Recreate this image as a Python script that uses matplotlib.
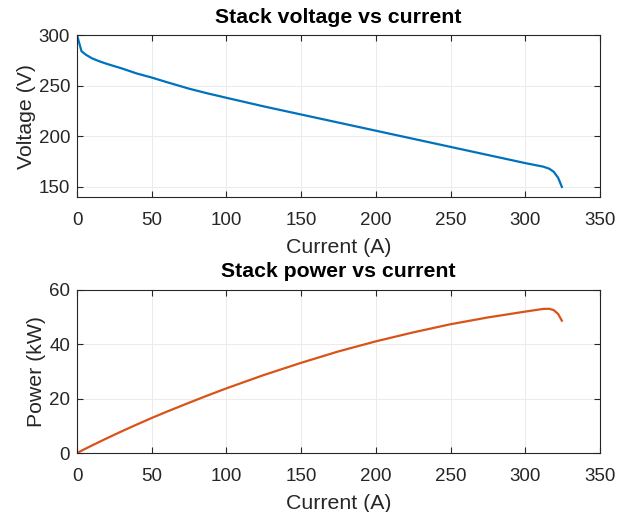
import matplotlib
matplotlib.use("Agg")
import matplotlib.pyplot as plt

# values
current = [0, 3, 6, 10, 15, 20, 30, 40, 50, 60, 75, 87, 100, 125, 150, 175,
           200, 225, 250, 275, 300, 312, 316, 319, 322, 324.5]
voltage = [300, 284, 280.5, 277, 274, 271.5, 267, 262, 258, 253.5, 247, 242.5,
           238, 229.5, 221.5, 213.5, 205.5, 197.5, 189.5, 181.5, 173.5, 170,
           168, 165, 159, 150]
power_kw = [0, 0.85, 1.68, 2.77, 4.11, 5.43, 8.01, 10.48, 12.9, 15.2, 18.5,
            21.1, 23.8, 28.7, 33.2, 37.4, 41.1, 44.4, 47.4, 49.9, 52.05, 53.04,
            53.09, 52.6, 51.2, 48.7]

plt.rcParams["font.family"] = ["Liberation Sans", "DejaVu Sans"]

fig = plt.figure(figsize=(6.17, 5.12), dpi=100)
ax1 = fig.add_axes([0.1248, 0.6152, 0.8476, 0.3164])
ax2 = fig.add_axes([0.1248, 0.1152, 0.8476, 0.3184])

def matlab_style(ax):
    ax.grid(True, color="#ebebeb", linewidth=0.7)
    ax.set_axisbelow(True)
    ax.tick_params(direction="in", top=True, right=True, labelsize=13.5,
                   color="#262626", labelcolor="#262626", length=4, pad=5)
    ax.tick_params(axis="x", pad=11)
    for s in ax.spines.values():
        s.set_color("#262626")
        s.set_linewidth(0.8)
    ax.set_xlim(0, 350)
    ax.set_xticks(range(0, 351, 50))

ax1.plot(current, voltage, color="#0072BD", linewidth=1.6)
matlab_style(ax1)
ax1.set_ylim(140, 300)
ax1.set_yticks([150, 200, 250, 300])
ax1.set_title("Stack voltage vs current", fontsize=15.3, fontweight="bold", pad=9)
ax1.set_xlabel("Current (A)", fontsize=15.3, color="#262626", labelpad=6)
ax1.set_ylabel("Voltage (V)", fontsize=15.3, color="#262626", labelpad=2)

ax2.plot(current, power_kw, color="#D95319", linewidth=1.6)
matlab_style(ax2)
ax2.set_ylim(0, 60)
ax2.set_yticks([0, 20, 40, 60])
ax2.set_title("Stack power vs current", fontsize=15.3, fontweight="bold", pad=9)
ax2.set_xlabel("Current (A)", fontsize=15.3, color="#262626", labelpad=6)
ax2.set_ylabel("Power (kW)", fontsize=15.3, color="#262626", labelpad=2)

fig.savefig("out.png", dpi=100)
